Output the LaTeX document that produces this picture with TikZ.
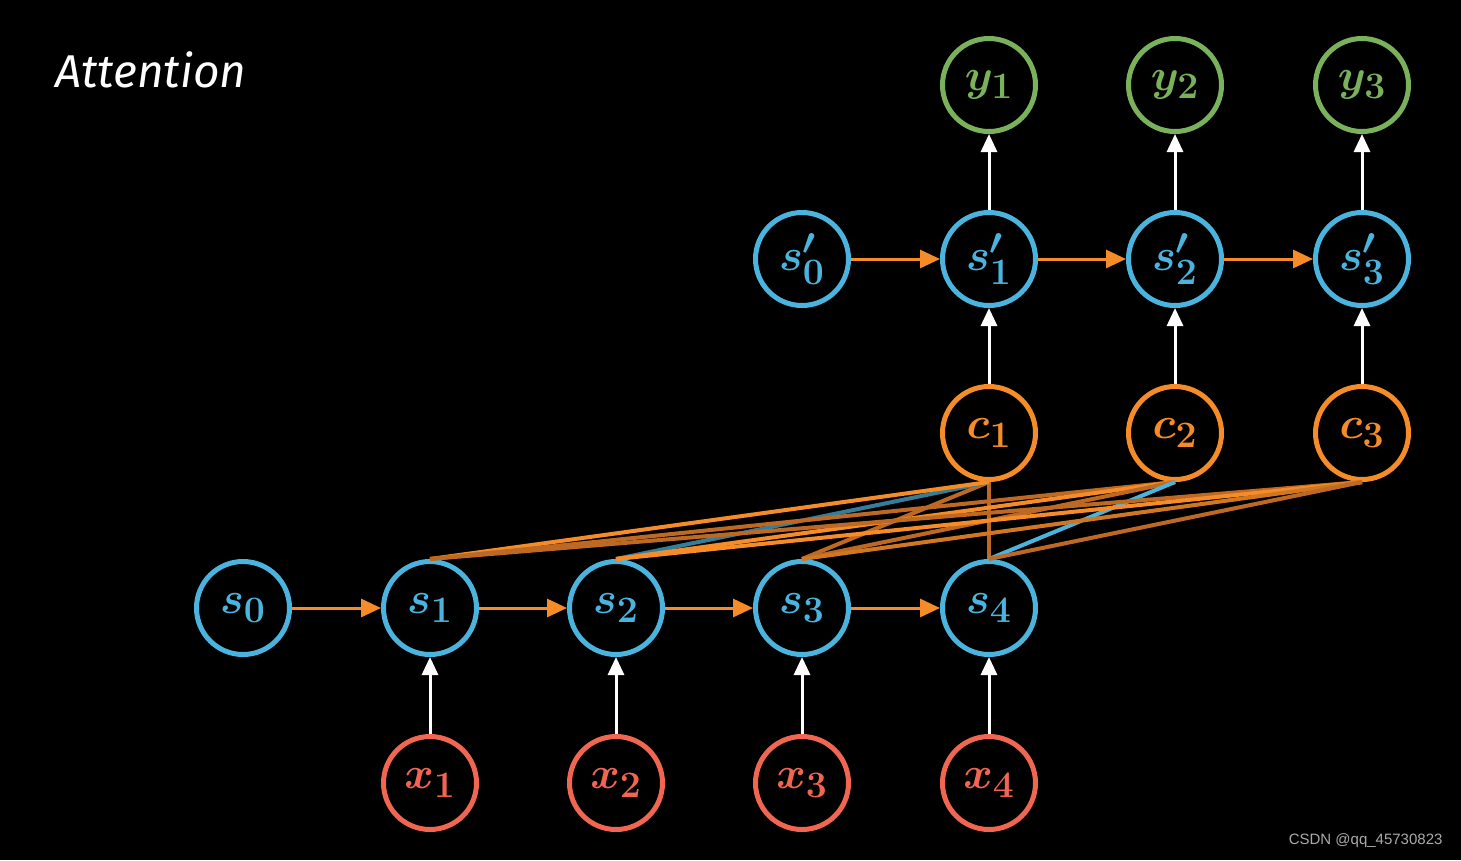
\documentclass[tikz,border=0pt]{standalone}
\usepackage{graphicx}
\usepackage{fontspec}
\newfontfamily\titlefont{Fira Sans}
\newfontfamily\wmfont{Liberation Sans}
\usetikzlibrary{arrows.meta}
\newcommand\mlab[1]{\scalebox{1.8}{$#1$}}
\definecolor{cblue}{RGB}{75,180,222}
\definecolor{corange}{RGB}{246,140,40}
\definecolor{cbrown}{RGB}{190,105,35}
\definecolor{cgreen}{RGB}{122,178,92}
\definecolor{cred}{RGB}{240,102,80}
\definecolor{cgray}{RGB}{170,170,170}
\tikzset{
  unit/.style={circle,line width=5pt,minimum size=93pt,inner sep=0pt,font=\Huge\boldmath},
  bunit/.style={unit,draw=cblue,text=cblue},
  ounit/.style={unit,draw=corange,text=corange},
  gunit/.style={unit,draw=cgreen,text=cgreen},
  runit/.style={unit,draw=cred,text=cred},
  harr/.style={draw=corange,line width=3pt,-{Triangle[length=20pt,width=18pt]}},
  varr/.style={draw=white,line width=3pt,-{Triangle[length=18pt,width=16pt]}},
  att/.style={line width=4pt},
}
\begin{document}
\begin{tikzpicture}[x=1pt,y=-1pt]
\fill[black] (0,0) rectangle (1461,860);
\useasboundingbox (0,0) rectangle (1461,860);
\node[anchor=west,text=white,font=\titlefont\itshape\fontsize{46}{50}\selectfont] (title) at (52,70) {Attention};
% encoder
\foreach \i/\x in {0/243,1/430,2/616,3/802,4/989}{
  \node[bunit] (s\i) at (\x,608) {\mlab{s_{\i}}};
}
\foreach \i/\x in {1/430,2/616,3/802,4/989}{
  \node[runit] (x\i) at (\x,783) {\mlab{x_{\i}}};
}
% decoder
\node[bunit] (sp0) at (802,259) {\mlab{s'_0}};
\foreach \j/\x in {1/989,2/1175,3/1362}{
  \node[bunit] (sp\j) at (\x,259) {\mlab{s'_{\j}}};
  \node[ounit] (c\j) at (\x,433) {\mlab{c_{\j}}};
  \node[gunit] (y\j) at (\x,85) {\mlab{y_{\j}}};
}
% attention lines
\draw[att,cbrown] (c1.south) -- (s4.north);
\draw[att,cbrown] (c1.south) -- (s3.north);
\draw[att,cblue!70!black] (c1.south) -- (s2.north);
\draw[att,corange] (c1.south) -- (s1.north);
\draw[att,cbrown] (c2.south) -- (s1.north);
\draw[att,corange] (c2.south) -- (s2.north);
\draw[att,cbrown] (c2.south) -- (s3.north);
\draw[att,cblue] (c2.south) -- (s4.north);
\draw[att,cbrown] (c3.south) -- (s1.north);
\draw[att,corange] (c3.south) -- (s2.north);
\draw[att,corange!85!black] (c3.south) -- (s3.north);
\draw[att,cbrown] (c3.south) -- (s4.north);
% arrows
\foreach \a/\b in {0/1,1/2,2/3,3/4}{
  \draw[harr] (s\a) -- (s\b);
}
\foreach \a/\b in {0/1,1/2,2/3}{
  \draw[harr] (sp\a) -- (sp\b);
}
\foreach \i in {1,2,3,4}{ \draw[varr] (x\i) -- (s\i); }
\foreach \j in {1,2,3}{
  \draw[varr] (c\j) -- (sp\j);
  \draw[varr] (sp\j) -- (y\j);
}
\node[anchor=east,text=cgray,font=\wmfont\fontsize{15}{17}\selectfont] (wm) at (1446,841) {CSDN @qq\_45730823};
\end{tikzpicture}
\end{document}
